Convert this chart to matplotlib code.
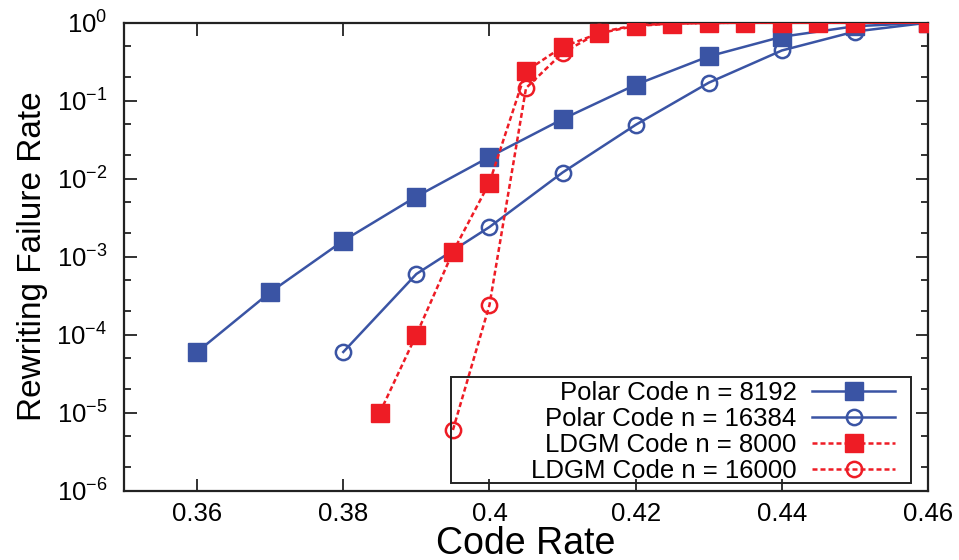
import matplotlib
matplotlib.use("Agg")
import matplotlib.pyplot as plt
from matplotlib.patches import Rectangle
from matplotlib.ticker import FixedLocator, FixedFormatter, LogLocator, NullFormatter

plt.rcParams['font.family'] = ['Liberation Sans', 'DejaVu Sans']
plt.rcParams['mathtext.fontset'] = 'custom'
plt.rcParams['mathtext.rm'] = 'Liberation Sans'
plt.rcParams['mathtext.it'] = 'Liberation Sans'
plt.rcParams['mathtext.default'] = 'regular'

# Data
polar_8192_x = [0.36, 0.37, 0.38, 0.39, 0.40, 0.41, 0.42, 0.43, 0.44, 0.45, 0.46]
polar_8192_y = [6e-5, 3.5e-4, 1.6e-3, 5.9e-3, 0.019, 0.058, 0.16, 0.37, 0.66, 0.9, 1.0]

polar_16384_x = [0.38, 0.39, 0.40, 0.41, 0.42, 0.43, 0.44, 0.45, 0.46]
polar_16384_y = [6e-5, 6e-4, 2.4e-3, 0.012, 0.049, 0.17, 0.44, 0.77, 1.0]

ldgm_8000_x = [0.385, 0.39, 0.395, 0.40, 0.405, 0.41, 0.415, 0.42, 0.425, 0.43, 0.435, 0.44, 0.445, 0.45, 0.46]
ldgm_8000_y = [1e-5, 1e-4, 1.15e-3, 8.9e-3, 0.24, 0.49, 0.73, 0.91, 0.97, 0.99, 1.0, 1.0, 1.0, 1.0, 1.0]

ldgm_16000_x = [0.395, 0.40, 0.405, 0.41, 0.415, 0.42, 0.425, 0.43, 0.435, 0.44, 0.445, 0.45, 0.46]
ldgm_16000_y = [6e-6, 2.4e-4, 0.145, 0.41, 0.75, 0.93, 0.97, 0.99, 1.0, 1.0, 1.0, 1.0, 1.0]

x_ticks = [0.36, 0.38, 0.40, 0.42, 0.44, 0.46]
x_tick_labels = ["0.36", "0.38", "0.4", "0.42", "0.44", "0.46"]
y_ticks = [1e-6, 1e-5, 1e-4, 1e-3, 1e-2, 1e-1, 1e0]
y_tick_labels = ["$10^{-6}$", "$10^{-5}$", "$10^{-4}$", "$10^{-3}$", "$10^{-2}$", "$10^{-1}$", "$10^{0}$"]

blue = '#3a54a4'
red = '#ee1c25'

fig = plt.figure(figsize=(9.59, 5.6), dpi=100)
ax = fig.add_axes([0.1293, 0.1238, 0.8384, 0.8357])

ax.plot(polar_8192_x, polar_8192_y, color=blue, lw=1.8, marker='s', ms=13,
        mfc=blue, mec=blue, label='Polar Code n = 8192', zorder=3)
ax.plot(polar_16384_x, polar_16384_y, color=blue, lw=1.8, marker='o', ms=11,
        mfc='none', mec=blue, mew=1.8, label='Polar Code n = 16384', zorder=3)
ax.plot(ldgm_8000_x, ldgm_8000_y, color=red, lw=1.8, ls=(0, (2, 1.2)), marker='s', ms=13,
        mfc=red, mec=red, label='LDGM Code n = 8000', zorder=4)
ax.plot(ldgm_16000_x, ldgm_16000_y, color=red, lw=1.8, ls=(0, (2, 1.2)), marker='o', ms=11,
        mfc='none', mec=red, mew=1.8, label='LDGM Code n = 16000', zorder=4)

ax.set_yscale('log')
ax.set_xlim(0.35, 0.46)
ax.set_ylim(1e-6, 1)

ax.xaxis.set_major_locator(FixedLocator(x_ticks))
ax.xaxis.set_major_formatter(FixedFormatter(x_tick_labels))
ax.yaxis.set_major_locator(FixedLocator(y_ticks))
ax.yaxis.set_major_formatter(FixedFormatter(y_tick_labels))
ax.yaxis.set_minor_locator(LogLocator(base=10, subs=(2.0, 5.0), numticks=20))
ax.yaxis.set_minor_formatter(NullFormatter())

ax.tick_params(which='both', direction='in', top=True, right=True, color='#222222', width=1.3)
ax.tick_params(which='major', length=9, labelsize=18.5)
ax.tick_params(which='minor', length=5)
ax.tick_params(axis='x', which='major', pad=8)
ax.tick_params(axis='y', which='major', pad=12)

for s in ax.spines.values():
    s.set_linewidth(1.6)
    s.set_color('#222222')

ax.set_xlabel('Code Rate', fontsize=27, labelpad=0)
ax.set_ylabel('Rewriting Failure Rate', fontsize=24, labelpad=6)

# legend box (gnuplot style, transparent, wide left padding)
frame = Rectangle((0.4067, 0.0165), 0.5722, 0.2265, transform=ax.transAxes,
                  fill=False, edgecolor='#222222', lw=1.4, zorder=5)
ax.add_patch(frame)

leg = ax.legend(loc='lower right', markerfirst=False, fontsize=18.5, frameon=False,
                handlelength=3.2, borderpad=0.0, labelspacing=0.08,
                handletextpad=0.62, borderaxespad=0,
                bbox_to_anchor=(0.9585, 0.016))
leg.set_zorder(6)
for t in leg.get_texts():
    t.set_ha('right')

fig.savefig('out.png', dpi=100)
